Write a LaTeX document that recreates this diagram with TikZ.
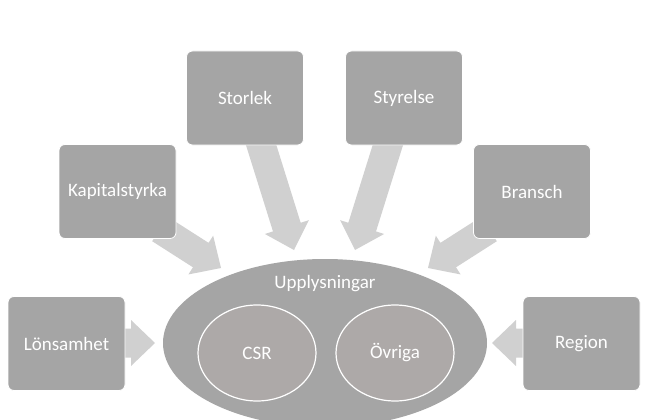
\documentclass[tikz,border=0pt]{standalone}
\usepackage{fontspec}
\setmainfont{Carlito}
\usetikzlibrary{calc,shapes.geometric}
\definecolor{boxgray}{HTML}{A5A5A5}
\definecolor{innergray}{HTML}{ADA9A8}
\definecolor{arrgray}{HTML}{D0D0D0}
\tikzset{
  factor/.style={rectangle, rounded corners=6pt, fill=boxgray, draw=white, line width=0.8pt,
    minimum width=117pt, minimum height=94pt, inner sep=0pt, text=white, font=\fontsize{19}{22}\selectfont},
  inner/.style={ellipse, fill=innergray, draw=white, line width=1.2pt, minimum width=118pt,
    minimum height=96pt, inner sep=0pt, text=white, font=\fontsize{19}{22}\selectfont},
  lbl/.style={text=white, font=\fontsize{19}{22}\selectfont, inner sep=0pt},
}
\newcommand\blockarr[2]{%
  \coordinate (h#1#2) at ($(#2)!24pt!(#1)$);
  \fill[arrgray] ($(#1)!14.5pt!90:(#2)$) -- ($(h#1#2)!14.5pt!-90:(#1)$) -- ($(h#1#2)!23pt!-90:(#1)$)
    -- (#2) -- ($(h#1#2)!23pt!90:(#1)$) -- ($(h#1#2)!14.5pt!90:(#1)$) -- ($(#1)!14.5pt!-90:(#2)$) -- cycle;
}
\begin{document}
\begin{tikzpicture}[x=1pt,y=-1pt]
\useasboundingbox (0,0) rectangle (645,420);
\clip (0,0) rectangle (645,420);
\fill[white] (0,0) rectangle (645,420);
% arrow anchors
\coordinate (sL) at (110,343); \coordinate (tL) at (155,343);
\coordinate (sR) at (540,343); \coordinate (tR) at (492,343);
\coordinate (sK) at (160,229); \coordinate (tK) at (221,268);
\coordinate (sB) at (489,229); \coordinate (tB) at (428,268);
\coordinate (sS) at (258,135); \coordinate (tS) at (294,250);
\coordinate (sY) at (391,135); \coordinate (tY) at (355,250);
\blockarr{sL}{tL}
\blockarr{sR}{tR}
\blockarr{sK}{tK}
\blockarr{sB}{tB}
\blockarr{sS}{tS}
\blockarr{sY}{tY}
% boxes
\node[factor] (stor) at (245,98) {Storlek};
\node[factor] (styr) at (404,98) {Styrelse};
\node[factor] (kap) at (117.5,191.5) {Kapitalstyrka};
\node[factor] (bra) at (532,191.5) {Bransch};
\node[factor] (lon) at (66.5,343.5) {Lönsamhet};
\node[factor] (reg) at (581.5,343.5) {Region};
% central ellipse
\node[ellipse, fill=boxgray, minimum width=324pt, minimum height=168pt, inner sep=0pt] (upp) at (325,343) {};
\node[lbl] (uppl) at (325,284) {Upplysningar};
\node[inner] (csr) at (257,353) {CSR};
\node[inner] (ovr) at (395,353) {Övriga};
\end{tikzpicture}
\end{document}
